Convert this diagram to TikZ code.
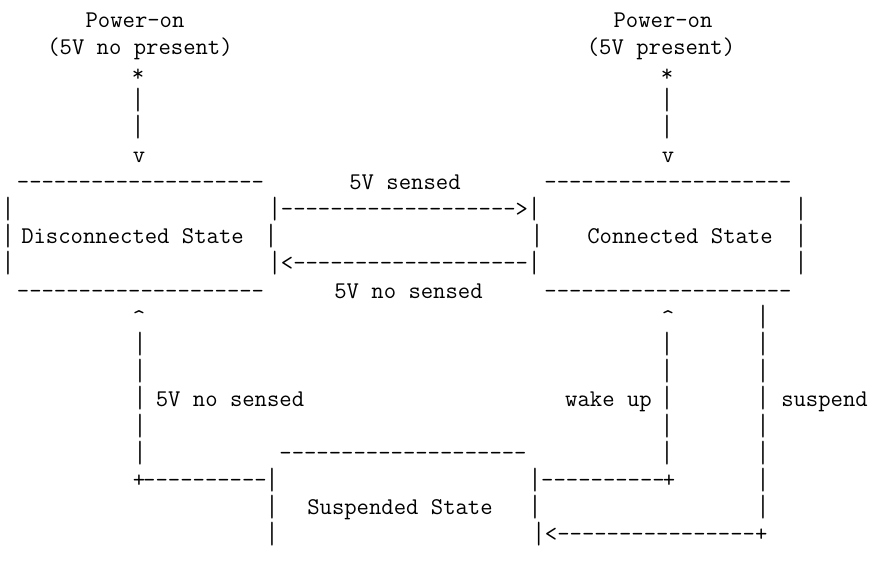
\documentclass[tikz,border=0pt]{standalone}
\newcommand\vb{\raisebox{-1.5pt}{\scalebox{1}[1.28]{|}}}
\begin{document}
\begin{tikzpicture}[x=1pt,y=-1pt,
  t/.style={inner sep=0pt,outer sep=0pt,anchor=base,font=\ttfamily\fontsize{24}{28}\selectfont}]
\useasboundingbox (0,0) rectangle (869,560);
\def\ra{27}\def\rb{54.1}\def\rc{81.2}\def\rd{108.3}\def\re{135.4}\def\rf{162.5}
\def\rg{189.6}\def\rh{216.7}\def\ri{243.8}\def\rj{270.9}\def\rk{298}\def\rl{325.1}
\def\rm{352.2}\def\rn{379.3}\def\ro{406.4}\def\rp{433.5}\def\rq{460.6}\def\rr{487.7}
\def\rs{514.8}\def\rt{541.9}
% power-on labels
\node[t] (pl1) at (135,\ra) {Power-on};
\node[t] (pr1) at (663,\ra) {Power-on};
\node[t] (pl2) at (140,\rb) {(5V no present)};
\node[t] (pr2) at (661,\rb) {(5V present)};
\node[t] (pl3) at (138,\rc) {*};
\node[t] (pr3) at (667,\rc) {*};
\node[t] (pl4) at (138,\rd) {\vb};
\node[t] (pr4) at (667,\rd) {\vb};
\node[t] (pl5) at (138,\re) {\vb};
\node[t] (pr5) at (667,\re) {\vb};
\node[t] (pl6) at (139,\rf) {v};
\node[t] (pr6) at (668,\rf) {v};
% top edges of boxes
\node[t] (dtop) at (140.5,\rg) {--------------------};
\node[t] (lsens) at (405,\rg) {5V sensed};
\node[t] (ctop) at (668,\rg) {--------------------};
% box rows
\node[t] (dl8) at (8,\rh) {\vb};
\node[t] (arr1) at (404.5,\rh) {\vb------------------->\vb};
\node[t] (cr8) at (801,\rh) {\vb};
\node[t] (dl9) at (8,\ri) {\vb};
\node[t] (dtxt) at (132.5,\ri) {Disconnected State};
\node[t] (dr9) at (271,\ri) {\vb};
\node[t] (cl9) at (537,\ri) {\vb};
\node[t] (ctxt) at (680,\ri) {Connected State};
\node[t] (cr9) at (801,\ri) {\vb};
\node[t] (dl10) at (8,\rj) {\vb};
\node[t] (arr2) at (404.5,\rj) {\vb<-------------------\vb};
\node[t] (cr10) at (801,\rj) {\vb};
% bottom edges
\node[t] (dbot) at (140.5,\rk) {--------------------};
\node[t] (lnos) at (408.5,\rk) {5V no sensed};
\node[t] (cbot) at (668,\rk) {--------------------};
% vertical connectors
\node[t] (va12) at (139,\rl) {\textasciicircum};
\node[t] (vb12) at (668,\rl) {\textasciicircum};
\node[t] (vc12) at (763,\rl) {\vb};
\node[t] (va13) at (140,\rm) {\vb};
\node[t] (vb13) at (667,\rm) {\vb};
\node[t] (vc13) at (763,\rm) {\vb};
\node[t] (va14) at (140,\rn) {\vb};
\node[t] (vb14) at (667,\rn) {\vb};
\node[t] (vc14) at (763,\rn) {\vb};
\node[t] (va15) at (140,\ro) {\vb};
\node[t] (lnos2) at (230,\ro) {5V no sensed};
\node[t] (lwake) at (608.5,\ro) {wake up};
\node[t] (vb15) at (667,\ro) {\vb};
\node[t] (vc15) at (763,\ro) {\vb};
\node[t] (lsusp) at (824.5,\ro) {suspend};
\node[t] (va16) at (140,\rp) {\vb};
\node[t] (vb16) at (667,\rp) {\vb};
\node[t] (vc16) at (763,\rp) {\vb};
\node[t] (va17) at (140,\rq) {\vb};
\node[t] (stop) at (403,\rq) {--------------------};
\node[t] (vb17) at (667,\rq) {\vb};
\node[t] (vc17) at (763,\rq) {\vb};
% suspended box rows
\node[t] (pa18) at (139,\rr) {+};
\node[t] (da18) at (205,\rr) {----------};
\node[t] (sl18) at (272,\rr) {\vb};
\node[t] (sr18) at (535,\rr) {\vb};
\node[t] (db18) at (603,\rr) {----------};
\node[t] (pb18) at (669,\rr) {+};
\node[t] (vc18) at (763,\rr) {\vb};
\node[t] (sl19) at (272,\rs) {\vb};
\node[t] (stxt) at (400,\rs) {Suspended State};
\node[t] (sr19) at (535,\rs) {\vb};
\node[t] (vc19) at (763,\rs) {\vb};
\node[t] (sl20) at (272,\rt) {\vb};
\node[t] (arr3) at (650,\rt) {\vb<----------------+};
\end{tikzpicture}
\end{document}
